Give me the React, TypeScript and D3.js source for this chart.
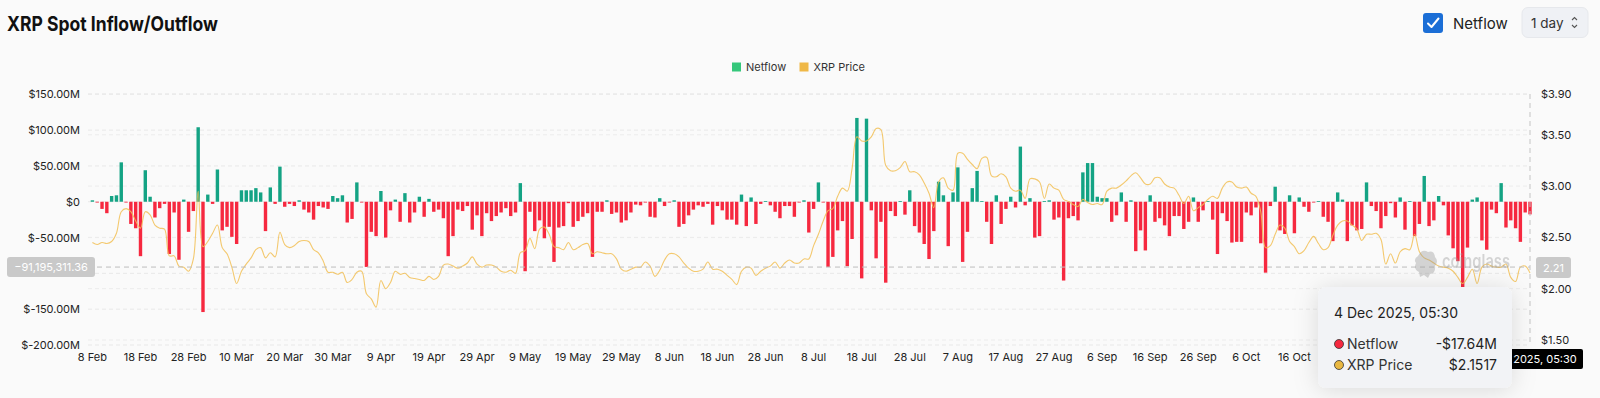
import React from 'react';
import * as d3 from 'd3';

// daily netflow in $M, one array per month (8 Feb 2025 .. 4 Dec 2025)
const febFlow = [2, -1, -10, -16, 8, 9, 55, -1, -31, -37, -76, 44, 7, -22, -9, -3, -73, -15, -81, 3, -42];
const marFlow = [-13, 104, -154, 10, -3, 45, -40, -35, -49, -59, 16, 16, 16, 19, 13, -41, 20, -3, 49, -7, -3, -6, 2, -11, -15, -25, -6, -8, -10, 8, 5];
const aprFlow = [9, -29, -24, 27, -1, -91, -42, -48, 15, -50, -12, 3, -28, 12, -29, -15, 7, -21, 4, -14, -11, -23, -76, -48, -11, -13, -6, -39, -19, -48];
const mayFlow = [-16, -27, -20, -15, -9, -20, -15, 26, -97, -14, -41, -26, -51, -35, -84, -36, -34, -2, -35, -27, -21, -16, -77, -14, -14, 2, -17, -15, -29, -26, -15];
const junFlow = [-4, -5, -1, -21, -22, 5, -6, -1, 2, -35, -31, -19, -11, -5, -7, -3, -32, -6, -12, -25, -25, -32, 10, -34, 6, -31, -3, 1, -5, -14];
const julFlow = [-23, -6, -6, -21, -1, 2, -43, -10, 27, -1, -91, -77, -40, -27, -90, -52, 117, -107, 116, -12, -79, -28, -113, -13, -20, 1, -18, 16, -34, -43, -59];
const augFlow = [-80, -41, 28, 9, -62, 13, 48, -84, -42, 19, 43, 1, -28, -59, 9, -31, -10, 7, -8, 77, -5, 5, -50, -48, 1, 2, -25, -22, -110, -23, -20];
const sepFlow = [-26, 41, 54, 54, 7, 5, 5, -28, -19, 13, -28, 2, -69, -40, -68, 9, -28, -23, -33, -48, -20, -20, -38, -28, 6, -28, -12, 1, -25, -73];
const octFlow = [-16, -27, -57, -56, -56, -15, -19, -8, -58, -99, -6, 21, -40, -45, 9, -44, 6, -7, -14, -1, 1, -21, -28, -55, 13, 3, -55, -33, -40, -38, 27];
const novFlow = [-6, -13, -37, -20, -2, -22, 6, -39, 1, -48, -31, 36, -34, -26, 8, -5, -47, -65, -83, -128, -64, 3, 6, -54, -67, -11, -16, 26, -36, -26];
const decFlow = [-37, -56, -15, -17.64];

// daily XRP price in $
const febPrice = [2.45, 2.43, 2.45, 2.44, 2.46, 2.54, 2.75, 2.78, 2.75, 2.66, 2.59, 2.75, 2.72, 2.62, 2.59, 2.58, 2.32, 2.32, 2.22, 2.21, 2.17];
const marPrice = [2.29, 2.95, 2.41, 2.46, 2.54, 2.62, 2.4, 2.34, 2.21, 2.05, 2.17, 2.24, 2.3, 2.38, 2.4, 2.3, 2.35, 2.31, 2.55, 2.43, 2.4, 2.42, 2.46, 2.47, 2.46, 2.38, 2.35, 2.27, 2.16, 2.16, 2.14];
const aprPrice = [2.16, 2.06, 2.09, 2.16, 2.17, 1.95, 1.9, 1.82, 2.08, 2.0, 2.06, 2.17, 2.14, 2.15, 2.11, 2.1, 2.09, 2.08, 2.12, 2.09, 2.12, 2.23, 2.24, 2.22, 2.2, 2.22, 2.25, 2.31, 2.24, 2.21];
const mayPrice = [2.23, 2.23, 2.21, 2.17, 2.16, 2.18, 2.15, 2.35, 2.37, 2.49, 2.39, 2.58, 2.6, 2.53, 2.41, 2.4, 2.38, 2.45, 2.38, 2.4, 2.43, 2.44, 2.34, 2.36, 2.35, 2.34, 2.34, 2.29, 2.19, 2.17, 2.19];
const junPrice = [2.21, 2.21, 2.26, 2.22, 2.12, 2.18, 2.28, 2.34, 2.34, 2.31, 2.25, 2.2, 2.17, 2.17, 2.19, 2.26, 2.19, 2.19, 2.17, 2.13, 2.09, 2.04, 2.17, 2.21, 2.2, 2.13, 2.17, 2.2, 2.22, 2.26];
const julPrice = [2.2, 2.25, 2.28, 2.25, 2.25, 2.29, 2.29, 2.42, 2.53, 2.66, 2.76, 2.78, 2.9, 2.98, 2.95, 3.17, 3.48, 3.44, 3.44, 3.48, 3.56, 3.55, 3.2, 3.15, 3.15, 3.18, 3.24, 3.14, 3.14, 3.11, 3.03];
const augPrice = [2.93, 2.79, 3.04, 3.08, 2.98, 2.96, 3.32, 3.32, 3.26, 3.21, 3.17, 3.27, 3.28, 3.1, 3.09, 3.12, 3.09, 2.98, 2.95, 2.96, 2.88, 3.07, 3.07, 3.04, 2.88, 3.02, 2.98, 2.96, 2.87, 2.85, 2.82];
const sepPrice = [2.8, 2.87, 2.84, 2.82, 2.83, 2.82, 2.95, 2.98, 2.98, 3.01, 3.05, 3.1, 3.13, 3.08, 3.02, 3.02, 3.08, 3.08, 3.02, 2.99, 2.98, 2.91, 2.83, 2.9, 2.76, 2.79, 2.82, 2.87, 2.9, 2.88];
const octPrice = [2.98, 3.04, 3.04, 2.99, 2.98, 2.99, 2.93, 2.9, 2.75, 2.4, 2.42, 2.53, 2.62, 2.59, 2.46, 2.41, 2.34, 2.37, 2.45, 2.51, 2.44, 2.38, 2.4, 2.52, 2.62, 2.66, 2.66, 2.62, 2.58, 2.47, 2.53];
const novPrice = [2.53, 2.54, 2.48, 2.24, 2.34, 2.25, 2.36, 2.39, 2.38, 2.53, 2.36, 2.3, 2.28, 2.25, 2.22, 2.21, 2.2, 2.17, 2.11, 2.05, 2.11, 2.19, 2.05, 2.21, 2.24, 2.22, 2.21, 2.21, 2.24, 2.11];
const decPrice = [2.07, 2.21, 2.22, 2.1517];

const flowTicks = [-200, -150, -100, -50, 0, 50, 100, 150];
const priceTicks = [1.5, 2, 2.5, 3, 3.5, 3.9];
const hoverFlow = -91195311.36;
const hoverPrice = 2.21;

const netflow = [...febFlow, ...marFlow, ...aprFlow, ...mayFlow, ...junFlow, ...julFlow, ...augFlow, ...sepFlow, ...octFlow, ...novFlow, ...decFlow];
const price = [...febPrice, ...marPrice, ...aprPrice, ...mayPrice, ...junPrice, ...julPrice, ...augPrice, ...sepPrice, ...octPrice, ...novPrice, ...decPrice];
const startDay = new Date(Date.UTC(2025, 1, 8));
const dates = netflow.map((_, i) => d3.utcDay.offset(startDay, i));

const FONT = 'Inter, "Noto Sans", sans-serif';
const GREEN = '#14a384';
const RED = '#f6283f';
const GOLD = '#f2bf55';

// tooltip box, covers some axis labels like in the screenshot
const TIP = { x: 1318, y: 287, w: 194, h: 101 };

export default function App() {
  const last = dates.length - 1;
  const x = d3.scaleUtc()
    .domain([d3.utcHour.offset(dates[0], -22), dates[last]])
    .range([88, 1530]);
  const yFlow = d3.scaleLinear().domain([-200, 150]).range([345, 94.3]);
  const yPrice = d3.scaleLinear().domain([1.5, 3.9]).range([340, 93.7]);
  const barW = 3.4;

  const line = d3.line<number>()
    .x((_, i) => x(dates[i]))
    .y((d) => yPrice(d))
    .curve(d3.curveCatmullRom.alpha(0.5));

  // labels hidden behind the tooltip are not drawn
  const xTicks = dates.filter((d, i) => i % 10 === 0 && x(d) < TIP.x);
  const fmtDay = d3.utcFormat('%-d %b');
  const fmtFlowTick = (v: number) => (v === 0 ? '$0' : `$${v.toFixed(2)}M`);
  const hy = yFlow(hoverFlow / 1e6);
  const hx = x(dates[last]);
  const leftTicks = flowTicks.filter((v) => Math.abs(yFlow(v) - hy) > 9);
  const tipTitle = d3.utcFormat('%-d %b %Y')(dates[last]) + ', 05:30';
  const lastFlow = netflow[last];
  const flowText = (lastFlow < 0 ? '-' : '') + '$' + Math.abs(lastFlow).toFixed(2) + 'M';

  return (
    <div style={{ position: 'absolute', left: 0, top: 0 }}>
      <svg width={1600} height={398} style={{ display: 'block', fontFamily: FONT }}>
        <defs>
          <filter id="tipShadow" x="-40%" y="-40%" width="180%" height="180%">
            <feDropShadow dx="0" dy="2" stdDeviation="12" floodColor="#000" floodOpacity="0.13" />
          </filter>
        </defs>
        <rect width={1600} height={398} fill="#fafafa" />

        {/* header */}
        <text x={7} y={31} fontSize={20} fontWeight={700} fill="#111" textLength={211} lengthAdjust="spacingAndGlyphs">
          XRP Spot Inflow/Outflow
        </text>
        <rect x={1423} y={13} width={20} height={20} rx={3} fill="#1b6ed6" />
        <path d="M1428 23.5 L1431.5 27 L1438.5 18.5" fill="none" stroke="#fff" strokeWidth={2} strokeLinecap="round" strokeLinejoin="round" />
        <text x={1453} y={29} fontSize={15} fill="#222">Netflow</text>
        <rect x={1522} y={7.5} width={66} height={30} rx={6} fill="#eff1f5" stroke="#e6e8ec" />
        <text x={1531} y={28} fontSize={13.5} fill="#333">1 day</text>
        <path d="M1572 20 L1574.5 17.5 L1577 20 M1572 25 L1574.5 27.5 L1577 25" fill="none" stroke="#555" strokeWidth={1.1} />

        {/* legend */}
        <rect x={732} y={62.5} width={9} height={9} fill="#35c77b" />
        <text x={746} y={71} fontSize={11} fill="#333">Netflow</text>
        <rect x={799.5} y={62.5} width={9} height={9} fill="#efb847" />
        <text x={813.5} y={71} fontSize={11} fill="#333">XRP Price</text>

        {/* grid */}
        {flowTicks.map((v) => (
          <line key={'gf' + v} x1={88} x2={1530} y1={yFlow(v)} y2={yFlow(v)} stroke="#e8e8e8" strokeDasharray="4 3" />
        ))}
        {priceTicks.map((v) => (
          <line key={'gp' + v} x1={88} x2={1530} y1={yPrice(v)} y2={yPrice(v)} stroke="#ececec" strokeDasharray="4 3" />
        ))}

        {/* bars */}
        {netflow.map((v, i) => (
          <rect
            key={'b' + i}
            x={x(dates[i]) - barW / 2}
            y={v >= 0 ? yFlow(v) : yFlow(0)}
            width={barW}
            height={Math.max(0.8, Math.abs(yFlow(v) - yFlow(0)))}
            fill={v >= 0 ? GREEN : RED}
          />
        ))}

        {/* price line */}
        <path d={line(price) ?? ''} fill="none" stroke={GOLD} strokeWidth={1.1} strokeOpacity={0.85} />

        {/* crosshair */}
        <line x1={88} x2={1530} y1={hy} y2={hy} stroke="#bdbdbd" strokeDasharray="5 4" />
        <line x1={hx} x2={hx} y1={94} y2={345} stroke="#c4c4c4" strokeDasharray="5 4" />

        {/* watermark */}
        <g opacity={0.4} fill="#9a9a9a">
          <path d="M1418 256 q4 -8 10 -4 q6 -2 7 5 q4 4 0 9 q1 7 -5 8 l-2 4 l-4 -3 l-4 2 l-1 -5 q-6 -3 -3 -9 q-3 -4 2 -7 z" />
          <text x={1442} y={268} fontSize={19} fontWeight={600} textLength={68} lengthAdjust="spacingAndGlyphs">coinglass</text>
        </g>

        {/* axes labels */}
        {leftTicks.map((v) => (
          <text key={'lf' + v} x={80} y={yFlow(v) + 4} fontSize={11} fill="#222" textAnchor="end">{fmtFlowTick(v)}</text>
        ))}
        {priceTicks.map((v) => (
          <text key={'lp' + v} x={1541} y={yPrice(v) + 4} fontSize={11} fill="#222">{`$${v.toFixed(2)}`}</text>
        ))}
        {xTicks.map((d, i) => (
          <text key={'x' + i} x={x(d)} y={361} fontSize={11} fill="#222" textAnchor="middle">{fmtDay(d)}</text>
        ))}

        {/* crosshair labels */}
        <rect x={7} y={257} width={88} height={20} rx={3} fill="#c9c9c9" />
        <text x={51} y={271} fontSize={11} fill="#fff" textAnchor="middle">{d3.format(',.2f')(hoverFlow)}</text>
        <rect x={1536} y={257} width={35} height={21} rx={3} fill="#c9c9c9" />
        <text x={1553.5} y={271.5} fontSize={11} fill="#fff" textAnchor="middle">{hoverPrice.toFixed(2)}</text>
        <rect x={1473} y={349} width={110} height={20} rx={2} fill="#000" />
        <text x={1528} y={363} fontSize={11} fill="#fff" textAnchor="middle">{tipTitle}</text>

        {/* tooltip */}
        <g>
          <rect x={TIP.x} y={TIP.y} width={TIP.w} height={TIP.h} rx={8} fill="#f2f3f6" filter="url(#tipShadow)" />
          <text x={1334} y={318} fontSize={14} fill="#222">{tipTitle}</text>
          <circle cx={1339} cy={344} r={4.5} fill={RED} stroke="#333" strokeWidth={0.8} />
          <text x={1347} y={349} fontSize={14} fill="#333">Netflow</text>
          <text x={1497} y={349} fontSize={14} fill="#222" textAnchor="end">{flowText}</text>
          <circle cx={1339} cy={365} r={4.5} fill="#e9b741" stroke="#333" strokeWidth={0.8} />
          <text x={1347} y={370} fontSize={14} fill="#333">XRP Price</text>
          <text x={1497} y={370} fontSize={14} fill="#222" textAnchor="end">{'$' + price[last].toFixed(4)}</text>
        </g>
      </svg>
    </div>
  );
}
